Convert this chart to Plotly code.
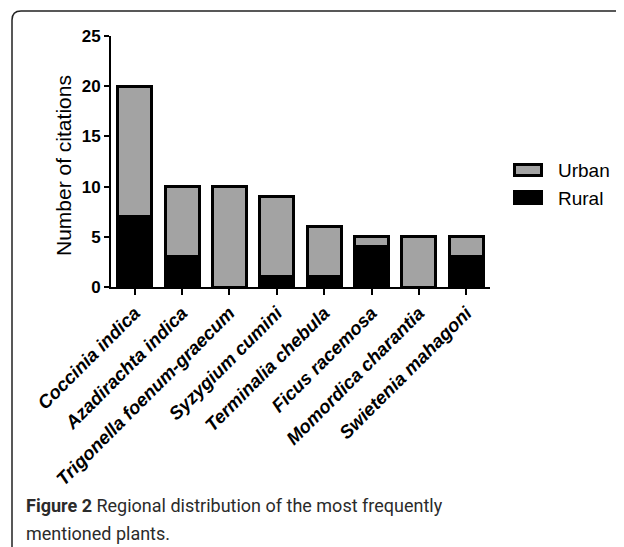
import plotly.graph_objects as go

plants = ["Coccinia indica", "Azadirachta indica", "Trigonella foenum-graecum",
          "Syzygium cumini", "Terminalia chebula", "Ficus racemosa",
          "Momordica charantia", "Swietenia mahagoni"]
rural = [7, 3, 0, 1, 1, 4, 0, 3]
urban = [13, 7, 10, 8, 5, 1, 5, 2]
y_ticks = [0, 5, 10, 15, 20, 25]

OFF = 8  # page body margin
W, H = 624 - OFF, 547 - OFF
L, R, T, B = 111 - OFF, 490 - OFF, 36 - OFF, 287 - OFF

def px(x):  # reference-pixel x -> paper
    return (x - OFF - L) / (R - L)

def py(y):  # reference-pixel y -> paper
    return (B - (y - OFF)) / (B - T)

URBAN_C = "#a3a3a3"
FONT = "Liberation Sans, Arial, sans-serif"

fig = go.Figure()
fig.add_trace(go.Bar(x=plants, y=rural, name="Rural",
                     marker=dict(color="black", line=dict(color="black", width=3))))
fig.add_trace(go.Bar(x=plants, y=urban, name="Urban",
                     marker=dict(color=URBAN_C, line=dict(color="black", width=3))))

frame_path = (f"M {px(12)} {py(560)} L {px(12)} {py(20)} "
              f"Q {px(12)} {py(11)} {px(21)} {py(11)} L {px(640)} {py(11)}")

shapes = [
    dict(type="path", xref="paper", yref="paper", path=frame_path,
         line=dict(color="#222", width=1.5)),
    # legend symbols
    dict(type="rect", xref="paper", yref="paper",
         x0=px(514.5), x1=px(541.5), y0=py(164.5), y1=py(175.5),
         fillcolor=URBAN_C, line=dict(color="black", width=3)),
    dict(type="rect", xref="paper", yref="paper",
         x0=px(513), x1=px(543), y0=py(190), y1=py(205),
         fillcolor="black", line=dict(color="black", width=0)),
]

annotations = [
    dict(xref="paper", yref="paper", x=px(63), y=py(166), textangle=-90,
         xanchor="center", yanchor="middle",
         showarrow=False, text="Number of citations",
         font=dict(family=FONT, size=21, color="black")),
    dict(xref="paper", yref="paper", x=px(556), y=py(170), xanchor="left",
         yanchor="middle", showarrow=False, text="Urban",
         font=dict(family=FONT, size=19, color="black")),
    dict(xref="paper", yref="paper", x=px(556), y=py(198), xanchor="left",
         yanchor="middle", showarrow=False, text="Rural",
         font=dict(family=FONT, size=19, color="black")),
    dict(xref="paper", yref="paper", x=px(24), y=py(505), xanchor="left",
         yanchor="middle", showarrow=False, align="left",
         text="<b>Figure 2</b> Regional distribution of the most frequently",
         font=dict(family="Roboto", size=18, color="#2b2b2b")),
    dict(xref="paper", yref="paper", x=px(24), y=py(533), xanchor="left",
         yanchor="middle", showarrow=False, align="left",
         text="mentioned plants.",
         font=dict(family="Roboto", size=18, color="#2b2b2b")),
]

fig.update_layout(
    width=W, height=H,
    margin=dict(l=L, r=W - R, t=T, b=H - B, autoexpand=False),
    barmode="stack", bargap=0.28,
    paper_bgcolor="white", plot_bgcolor="white",
    font=dict(family=FONT, color="black"),
    showlegend=False,
    xaxis=dict(showline=True, linecolor="black", linewidth=2,
               ticks="outside", ticklen=6, tickwidth=2, tickcolor="black",
               tickangle=-45, automargin=False,
               tickfont=dict(family=FONT, size=18.5, weight="bold", style="italic")),
    yaxis=dict(range=[0, 25], tickvals=y_ticks, showline=True,
               linecolor="black", linewidth=2, ticks="outside", ticklen=5,
               tickwidth=2, tickcolor="black", showgrid=False, zeroline=False,
               automargin=False,
               tickfont=dict(family=FONT, size=17, weight="bold")),
    shapes=shapes,
    annotations=annotations,
)

fig.write_html("out.html")
